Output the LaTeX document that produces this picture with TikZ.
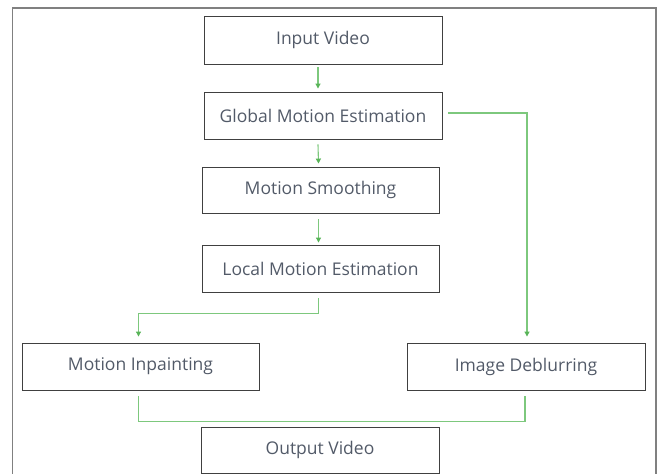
\documentclass[tikz,border=0pt]{standalone}
\usepackage{fontspec}
\setmainfont{Open Sans}
\usetikzlibrary{arrows.meta,calc}
\definecolor{lgreen}{RGB}{125,200,125}
\definecolor{dgreen}{RGB}{88,180,88}
\definecolor{txt}{RGB}{82,90,104}
\definecolor{bord}{RGB}{64,64,64}
\definecolor{frm}{RGB}{128,128,128}
\tikzset{
  box/.style={draw=bord, line width=0.9pt, rectangle, inner sep=0pt,
    font=\fontsize{17.5}{20}\selectfont, text=txt},
  conn/.style={draw=lgreen, line width=1.1pt},
  arr/.style={conn, -{Triangle[width=5pt,length=5pt,color=dgreen]}},
}
\begin{document}
\begin{tikzpicture}[x=1pt,y=-1pt]
\useasboundingbox (0,0) rectangle (662,474);
\draw[draw=frm, line width=1.5pt] (12.7,476) -- (12.7,8) -- (656,8) -- (656,476);
\node[box, minimum width=238pt, minimum height=48pt] (in) at (323,40) {Input Video};
\node[box, minimum width=238pt, minimum height=47pt] (gme) at (323,115.5) {Global Motion Estimation};
\node[box, minimum width=237pt, minimum height=46pt] (ms) at (320.5,190) {Motion Smoothing};
\node[box, minimum width=237pt, minimum height=47pt] (lme) at (320.5,268.5) {Local Motion Estimation};
\node[box, minimum width=237pt, minimum height=47pt] (mi) at (140.5,366.5) {Motion Inpainting};
\node[box, minimum width=238pt, minimum height=47pt] (id) at (526,366.5) {Image Deblurring};
\node[box, minimum width=238pt, minimum height=46pt] (out) at (320,450) {Output Video};
% vertical chain
\draw[arr] ($(in.south)+(-5,3)$) -- ($(gme.north)+(-5,-3)$);
\draw[arr] ($(gme.south)+(-5,5)$) -- ($(ms.north)+(-2,-3)$);
\draw[arr] ($(ms.south)+(-2,6)$) -- ($(lme.north)+(-2,-2)$);
% LME -> MI
\coordinate (a1) at ($(lme.south)+(-2,6)$);
\draw[arr] (a1) -- ++(0,15) -| ($(mi.north)+(-2,-6)$);
% GME -> ID
\coordinate (b1) at ($(gme.east)+(6,-2.5)$);
\draw[arr] (b1) -| ($(id.north)+(1,-6)$);
% MI, ID -> out
\coordinate (c1) at ($(mi.south)+(-2,6)$);
\coordinate (c2) at ($(id.south)+(-1,6)$);
\draw[conn] (c1) -- ($(c1)+(0,25)$) -- ($(c2)+(0,25)$) -- (c2);
\end{tikzpicture}
\end{document}
